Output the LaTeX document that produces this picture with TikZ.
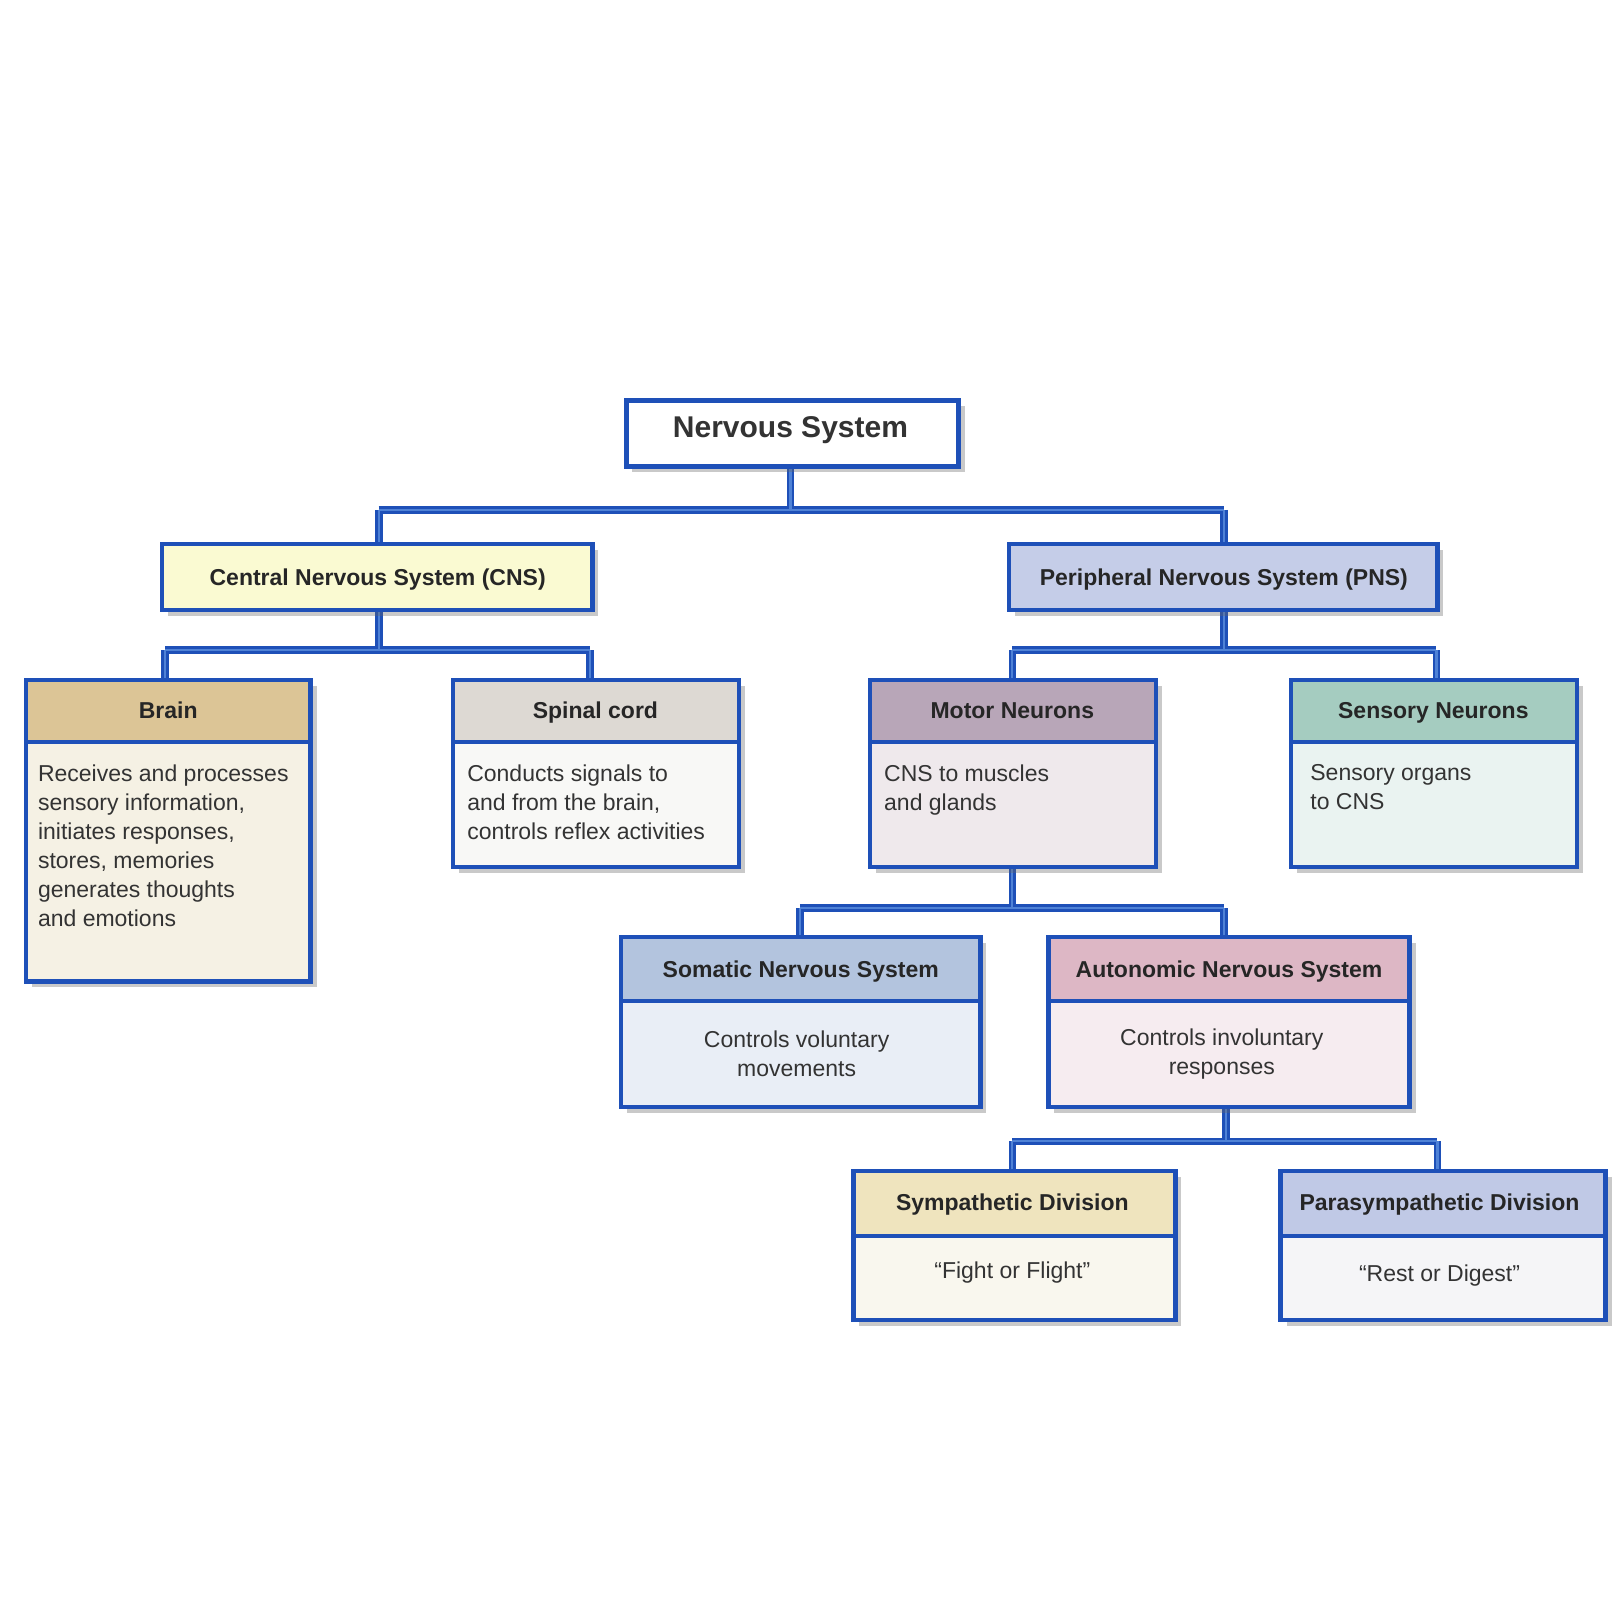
\documentclass[tikz,border=0pt]{standalone}
\usepackage{fontspec}
\setmainfont{Liberation Sans}
\usetikzlibrary{shadows}
\definecolor{bord}{HTML}{1E50B8}
\definecolor{bordl}{HTML}{4F82D6}
\definecolor{cnsc}{RGB}{250,250,210}
\definecolor{pnsc}{RGB}{197,205,232}
\definecolor{brh}{RGB}{220,197,150}\definecolor{brb}{RGB}{245,241,228}
\definecolor{sph}{RGB}{221,217,211}\definecolor{spb}{RGB}{248,248,246}
\definecolor{moh}{RGB}{184,166,184}\definecolor{mob}{RGB}{239,233,236}
\definecolor{seh}{RGB}{165,204,192}\definecolor{seb}{RGB}{234,243,241}
\definecolor{soh}{RGB}{179,196,222}\definecolor{sob}{RGB}{233,238,246}
\definecolor{auh}{RGB}{221,183,197}\definecolor{aub}{RGB}{246,236,240}
\definecolor{syh}{RGB}{239,228,190}\definecolor{syb}{RGB}{249,247,238}
\definecolor{pah}{RGB}{192,201,230}\definecolor{pab}{RGB}{245,245,247}
\tikzset{
 x=0.516pt,y=-0.516pt,
 frame/.style={draw=bord,line width=2.2pt,drop shadow={shadow xshift=3pt,shadow yshift=-3pt,opacity=0.35,fill=black!60}},
 conn/.style={draw=bord,line width=3.8pt},
 connin/.style={draw=bordl,line width=1.1pt},
 hd/.style={font=\bfseries\fontsize{11.5}{13}\selectfont,text=black!85,anchor=base},
 bd/.style={font=\fontsize{11.5}{14.5}\selectfont,text=black!80,align=left,anchor=north west},
 bdc/.style={font=\fontsize{11.5}{14.5}\selectfont,text=black!80,align=center},
}
\newcommand{\tbox}[8]{% name, x1,y1,x2,y2,ysplit,headcol,bodycol
 \fill[frame,fill=#8] (#2,#3) rectangle (#4,#5);
 \fill[#7] (#2,#3) rectangle (#4,#6);
 \draw[bord,line width=2.2pt] (#2,#3) rectangle (#4,#5);
 \draw[bord,line width=2pt] (#2,#6) -- (#4,#6);
}
\begin{document}
\begin{tikzpicture}
\fill[white] (0,0) rectangle (1566,1566);
\useasboundingbox (0,0) rectangle (1566,1566);
% connectors
\coordinate (b1) at (766,494);\coordinate (b1l) at (367,494);\coordinate (b1r) at (1186,494);
\coordinate (b2) at (367,630);\coordinate (b2l) at (160,630);\coordinate (b2r) at (572,630);
\coordinate (b3) at (1186,630);\coordinate (b3l) at (981,630);\coordinate (b3r) at (1392,630);
\coordinate (b4) at (981,880);\coordinate (b4l) at (775,880);\coordinate (b4r) at (1186,880);
\coordinate (b5) at (1188,1106);\coordinate (b5l) at (981,1106);\coordinate (b5r) at (1393,1106);
\foreach \s in {conn,connin}{
 \draw[\s] (766,452) -- (b1) (b1l) -- (b1r) (b1l) -- (367,527) (b1r) -- (1186,527);
 \draw[\s] (367,591) -- (b2) (b2l) -- (b2r) (b2l) -- (160,659) (b2r) -- (572,659);
 \draw[\s] (1186,591) -- (b3) (b3l) -- (b3r) (b3l) -- (981,659) (b3r) -- (1392,659);
 \draw[\s] (981,840) -- (b4) (b4l) -- (b4r) (b4l) -- (775,908) (b4r) -- (1186,908);
 \draw[\s] (1188,1073) -- (b5) (b5l) -- (b5r) (b5l) -- (981,1135) (b5r) -- (1393,1135);
}
% top
\fill[frame,fill=white] (607,388) rectangle (929,452);
\draw[bord,line width=2.2pt] (607,388) rectangle (929,452);
\node[font=\bfseries\fontsize{15}{18}\selectfont,text=black!80,anchor=base] (ns) at (766,424) {Nervous System};
\fill[frame,fill=cnsc] (157,527) rectangle (574,591);
\draw[bord,line width=2.2pt] (157,527) rectangle (574,591);
\node[hd] (cns) at (366,567) {Central Nervous System (CNS)};
\fill[frame,fill=pnsc] (978,527) rectangle (1393,591);
\draw[bord,line width=2.2pt] (978,527) rectangle (1393,591);
\node[hd] (pns) at (1186,567) {Peripheral Nervous System (PNS)};
% level 2
\tbox{br}{25}{659}{301}{951}{719}{brh}{brb}
\node[hd] (brh) at (163,696) {Brain};
\node[bd] (brb) at (30,734) {Receives and processes\\sensory information,\\initiates responses,\\stores, memories\\generates thoughts\\and emotions};
\tbox{sp}{439}{659}{716}{840}{719}{sph}{spb}
\node[hd] (sph) at (577,696) {Spinal cord};
\node[bd] (spb) at (446,734) {Conducts signals to\\and from the brain,\\controls reflex activities};
\tbox{mo}{843}{659}{1120}{840}{719}{moh}{mob}
\node[hd] (moh) at (981,696) {Motor Neurons};
\node[bd] (mob) at (850,734) {CNS to muscles\\and glands};
\tbox{se}{1251}{659}{1528}{840}{719}{seh}{seb}
\node[hd] (seh) at (1389,696) {Sensory Neurons};
\node[bd] (seb) at (1263,734) {Sensory organs\\to CNS};
% level 3
\tbox{so}{602}{908}{950}{1073}{970}{soh}{sob}
\node[hd] (soh) at (776,947) {Somatic Nervous System};
\node[bdc] (sob) at (772,1021) {Controls voluntary\\movements};
\tbox{au}{1016}{908}{1366}{1073}{970}{auh}{aub}
\node[hd] (auh) at (1191,947) {Autonomic Nervous System};
\node[bdc] (aub) at (1184,1021) {Controls involuntary\\responses};
% level 4
\tbox{sy}{827}{1135}{1139}{1279}{1198}{syh}{syb}
\node[hd] (syh) at (981,1173) {Sympathetic Division};
\node[bdc] (syb) at (981,1233) {“Fight or Flight”};
\tbox{pa}{1241}{1135}{1556}{1279}{1198}{pah}{pab}
\node[hd] (pah) at (1395,1173) {Parasympathetic Division};
\node[bdc] (pab) at (1395,1236) {“Rest or Digest”};
\end{tikzpicture}
\end{document}
